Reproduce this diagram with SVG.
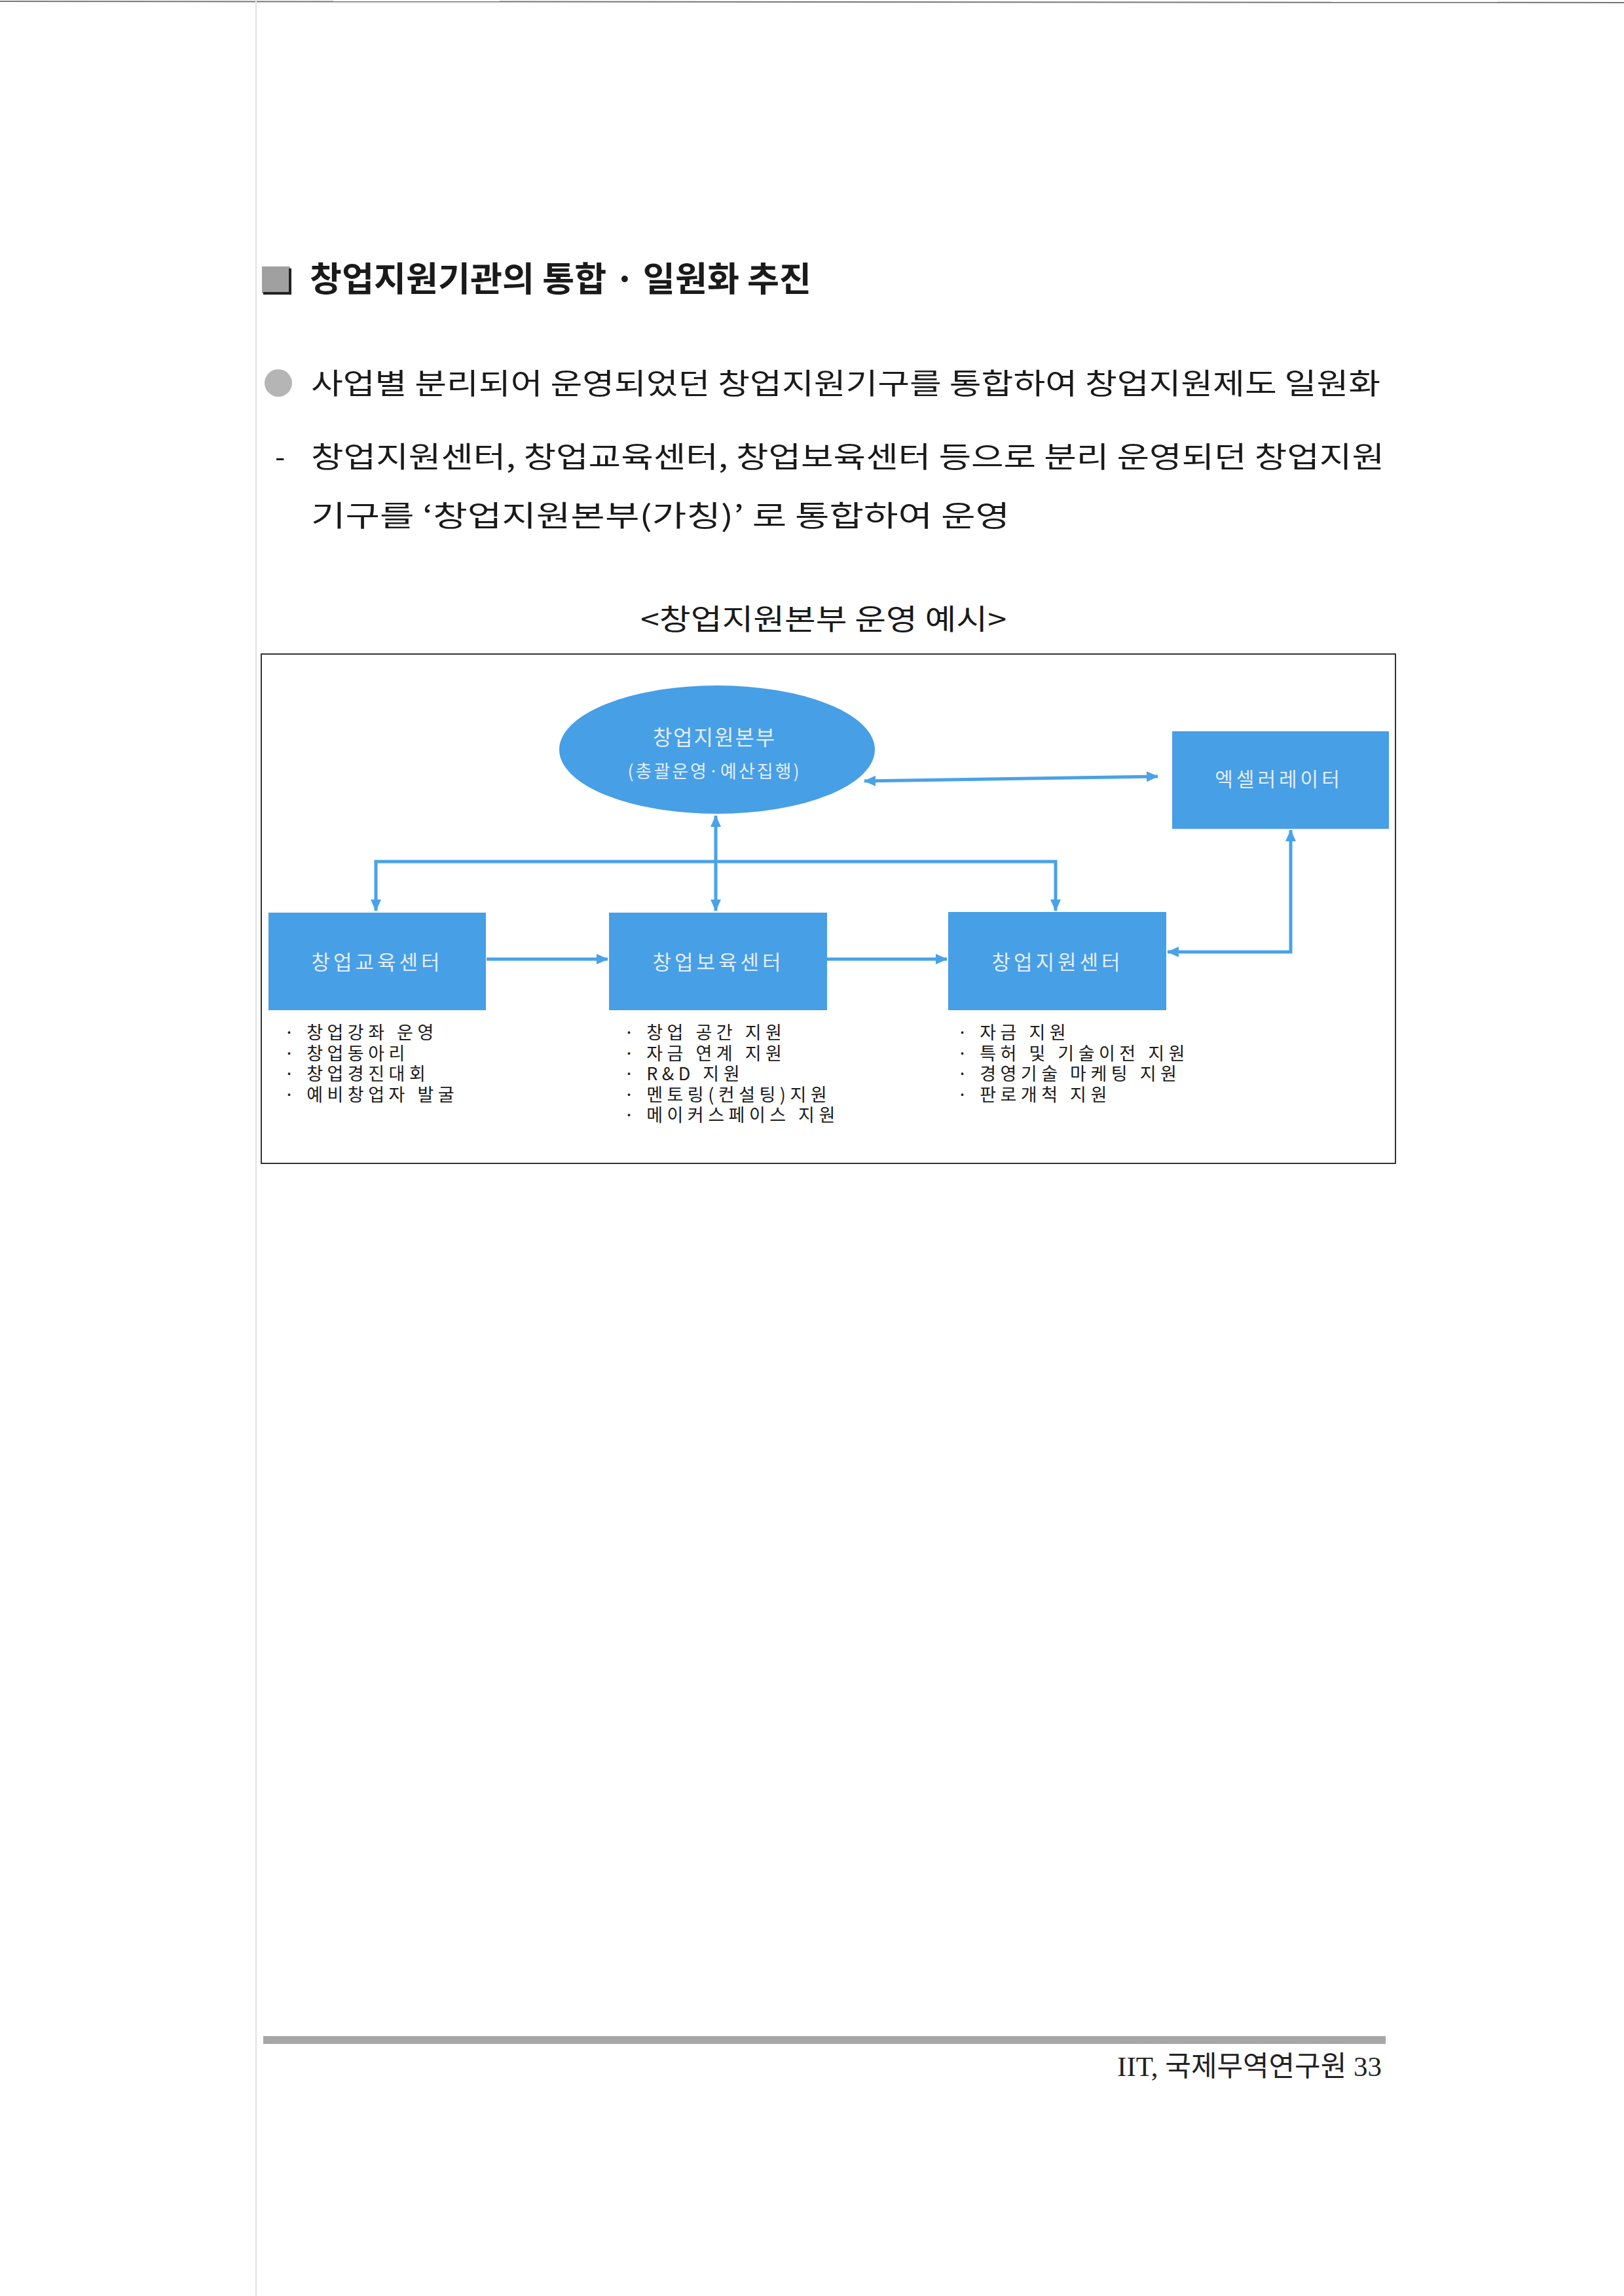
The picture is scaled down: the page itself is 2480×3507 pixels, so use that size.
<svg xmlns="http://www.w3.org/2000/svg" width="2480" height="3507" viewBox="0 0 2480 3507">
<style>
.body{font-family:"Noto Sans CJK KR","Noto Sans",sans-serif;fill:#1a1a1a;}
.node{fill:#479fe6;}
.lbl{font-family:"Noto Sans CJK KR","Noto Sans",sans-serif;fill:#e4edf5;text-anchor:middle;}
.lst{font-family:"Noto Sans CJK KR","Noto Sans",sans-serif;fill:#1a1a1a;font-size:27px;letter-spacing:6.5px;}
.conn{stroke:#4aa2e8;stroke-width:5;fill:none;}
</style>
<defs>
<marker id="ah" markerUnits="userSpaceOnUse" markerWidth="18" markerHeight="16" viewBox="0 0 18 16" refX="17" refY="8" orient="auto-start-reverse">
<path d="M0,0 L18,8 L0,16 Z" fill="#4aa2e8"/>
</marker>
</defs>
<rect width="2480" height="3507" fill="#ffffff"/>
<!-- page artifacts -->
<line x1="0" y1="2" x2="2480" y2="4" stroke="#777" stroke-width="2"/>
<line x1="391" y1="0" x2="391" y2="3507" stroke="#e2e2e2" stroke-width="2"/>

<!-- heading -->
<g id="heading">
<rect x="400" y="407" width="43" height="41" fill="#a0a0a0"/>
<path d="M443,410 L443,448 L402,448" stroke="#222" stroke-width="4" fill="none"/>
<text class="body" x="473" y="445" font-size="52" font-weight="bold" textLength="766" lengthAdjust="spacingAndGlyphs">창업지원기관의 통합 · 일원화 추진</text>
</g>
<g id="para">
<circle cx="425" cy="585" r="21" fill="#b5b5b5"/>
<text class="body" x="475" y="602" font-size="44" textLength="1633" lengthAdjust="spacingAndGlyphs">사업별 분리되어 운영되었던 창업지원기구를 통합하여 창업지원제도 일원화</text>
<text class="body" x="420" y="714" font-size="44">-</text>
<text class="body" x="475" y="714" font-size="44" textLength="1639" lengthAdjust="spacingAndGlyphs">창업지원센터, 창업교육센터, 창업보육센터 등으로 분리 운영되던 창업지원</text>
<text class="body" x="475" y="804" font-size="44" textLength="1067" lengthAdjust="spacingAndGlyphs">기구를  ‘창업지원본부(가칭)’ 로 통합하여 운영</text>
</g>
<text id="caption" class="body" x="978" y="962" font-size="44" textLength="559" lengthAdjust="spacingAndGlyphs">&lt;창업지원본부 운영 예시&gt;</text>

<!-- frame -->
<rect x="399" y="999" width="1732" height="778" fill="none" stroke="#333" stroke-width="2"/>

<!-- connectors -->
<g id="connectors">
<line class="conn" x1="1320" y1="1193" x2="1768" y2="1186" marker-start="url(#ah)" marker-end="url(#ah)"/>
<line class="conn" x1="1093" y1="1246" x2="1093" y2="1391" marker-start="url(#ah)" marker-end="url(#ah)"/>
<path class="conn" d="M574,1391 L574,1316 L1612,1316 L1612,1391" marker-start="url(#ah)" marker-end="url(#ah)"/>
<line class="conn" x1="743" y1="1465" x2="928" y2="1465" marker-end="url(#ah)"/>
<line class="conn" x1="1263" y1="1465" x2="1446" y2="1465" marker-end="url(#ah)"/>
<path class="conn" d="M1971,1268 L1971,1454 L1783,1454" marker-start="url(#ah)" marker-end="url(#ah)"/>
</g>

<!-- nodes -->
<g id="hq">
<ellipse class="node" cx="1095" cy="1145" rx="241" ry="98" fill="#3f96e0"/>
<text class="lbl" x="1091" y="1138" font-size="32" letter-spacing="2">창업지원본부</text>
<text class="lbl" x="1091" y="1188" font-size="27" letter-spacing="3">(총괄운영·예산집행)</text>
</g>
<g id="accelerator">
<rect class="node" x="1790" y="1117" width="331" height="149"/>
<text class="lbl" x="1953" y="1201" font-size="30" letter-spacing="5">엑셀러레이터</text>
</g>
<g id="edu">
<rect class="node" x="410" y="1394" width="332" height="149"/>
<text class="lbl" x="576" y="1481" font-size="31" letter-spacing="5">창업교육센터</text>
</g>
<g id="incub">
<rect class="node" x="930" y="1394" width="333" height="149"/>
<text class="lbl" x="1097" y="1481" font-size="31" letter-spacing="5">창업보육센터</text>
</g>
<g id="support">
<rect class="node" x="1448" y="1393" width="333" height="150"/>
<text class="lbl" x="1615" y="1481" font-size="31" letter-spacing="5">창업지원센터</text>
</g>

<!-- lists -->
<g id="list-edu">
<text class="lst" x="434" y="1587">· 창업강좌 운영</text>
<text class="lst" x="434" y="1619">· 창업동아리</text>
<text class="lst" x="434" y="1650">· 창업경진대회</text>
<text class="lst" x="434" y="1682">· 예비창업자 발굴</text>
</g>
<g id="list-incub">
<text class="lst" x="953" y="1587">· 창업 공간 지원</text>
<text class="lst" x="953" y="1619">· 자금 연계 지원</text>
<text class="lst" x="953" y="1650">· R&amp;D 지원</text>
<text class="lst" x="953" y="1682">· 멘토링(컨설팅)지원</text>
<text class="lst" x="953" y="1713">· 메이커스페이스 지원</text>
</g>
<g id="list-support">
<text class="lst" x="1462" y="1587">· 자금 지원</text>
<text class="lst" x="1462" y="1619">· 특허 및 기술이전 지원</text>
<text class="lst" x="1462" y="1650">· 경영기술 마케팅 지원</text>
<text class="lst" x="1462" y="1682">· 판로개척 지원</text>
</g>

<!-- footer -->
<rect x="402" y="3110" width="1714" height="12" fill="#a6a6a6"/>
<text id="footer" x="2110" y="3171" font-family="Liberation Serif,Noto Sans CJK KR,serif" font-size="43" fill="#222" text-anchor="end">IIT, 국제무역연구원 33</text>
</svg>
